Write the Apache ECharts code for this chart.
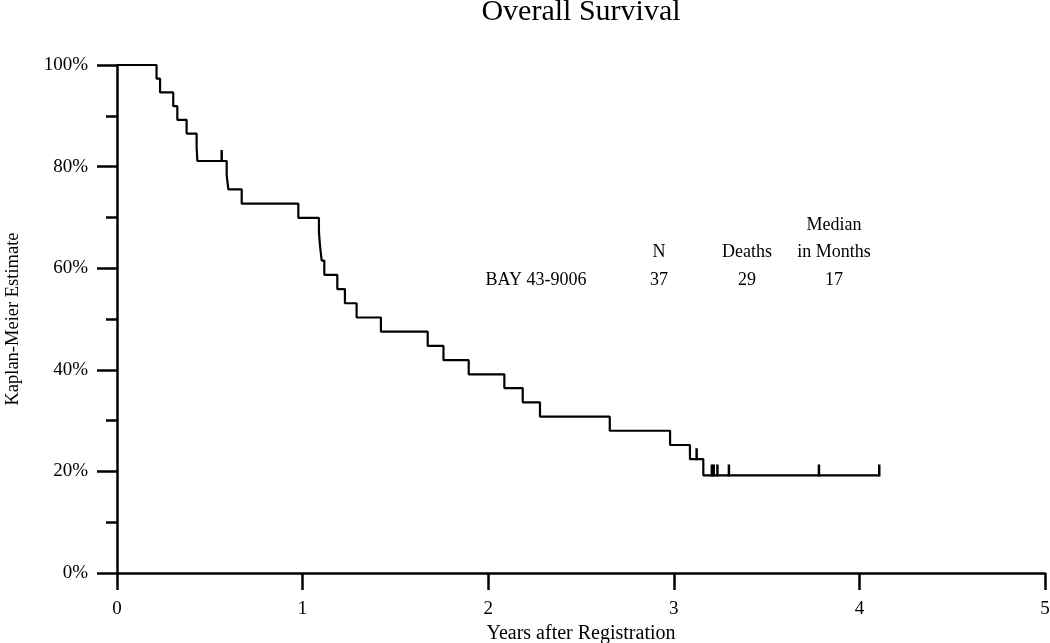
<!DOCTYPE html>
<html>
<head>
<meta charset="utf-8">
<script src="https://cdn.jsdelivr.net/npm/echarts@6/dist/echarts.min.js"></script>
<style>
html,body{margin:0;padding:0;background:#fff;}
#chart{width:1050px;height:643px;}
</style>
</head>
<body>
<div id="chart"></div>
<script>
// Kaplan-Meier step points: time (years) and survival estimate (%)
var eventTimes = [0, 0.213, 0.232, 0.303, 0.325, 0.375, 0.429, 0.433, 0.591, 0.600, 0.672, 0.977,
  1.088, 1.094, 1.103, 1.117, 1.187, 1.228, 1.291, 1.422, 1.674, 1.759, 1.895,
  2.087, 2.186, 2.279, 2.655, 2.980, 3.087, 3.159, 4.107];
var survival = [100, 97.3, 94.6, 91.9, 89.2, 86.5, 83.8, 81.1, 78.3, 75.5, 72.7, 69.9,
  67.1, 64.3, 61.5, 58.7, 55.9, 53.1, 50.3, 47.5, 44.7, 41.9, 39.1,
  36.4, 33.6, 30.8, 28.0, 25.2, 22.4, 19.2, 19.2];
// Censored observations
var censorTimes = [0.564, 3.123, 3.205, 3.215, 3.235, 3.297, 3.782, 4.107];
var censorSurvival = [81.1, 22.4, 19.2, 19.2, 19.2, 19.2, 19.2, 19.2];
// Axis ticks
var xTicks = [0, 1, 2, 3, 4, 5];
var yTicks = [0, 20, 40, 60, 80, 100];
// Summary table
var tableGroup = ['BAY 43-9006'];
var tableHeaders = ['N', 'Deaths', 'Median\nin Months'];
var tableValues = ['37', '29', '17'];
var chartTitle = 'Overall Survival';
var xTitle = 'Years after Registration';
var yTitle = 'Kaplan-Meier Estimate';

var FONT = '"Liberation Serif", "DejaVu Serif", serif';

var kmData = eventTimes.map(function (t, i) { return [t, survival[i]]; });
var censorData = censorTimes.map(function (t, i) { return [t, censorSurvival[i]]; });

var chart = echarts.init(document.getElementById('chart'), null, {renderer: 'canvas'});

var colX = [659, 747, 834];
var graphics = [
  {type: 'text', x: 581, y: 12, style: {text: chartTitle, font: '30px ' + FONT, fill: '#000', align: 'center', verticalAlign: 'middle'}},
  {type: 'text', x: 536, y: 280, style: {text: tableGroup[0], font: '18px ' + FONT, fill: '#000', align: 'center', verticalAlign: 'middle'}}
];
tableHeaders.forEach(function (h, i) {
  var lines = h.split('\n');
  lines.forEach(function (ln, j) {
    var y = 252 - (lines.length - 1 - j) * 27;
    graphics.push({type: 'text', x: colX[i], y: y, style: {text: ln, font: '18px ' + FONT, fill: '#000', align: 'center', verticalAlign: 'middle'}});
  });
  graphics.push({type: 'text', x: colX[i], y: 280, style: {text: tableValues[i], font: '18px ' + FONT, fill: '#000', align: 'center', verticalAlign: 'middle'}});
});

chart.setOption({
  animation: false,
  backgroundColor: '#fff',
  grid: {left: 117, right: 5, top: 65, bottom: 70, containLabel: false, outerBoundsMode: 'none'},
  xAxis: {
    type: 'value', min: xTicks[0], max: xTicks[xTicks.length - 1], interval: 1,
    axisLine: {show: true, onZero: false, lineStyle: {color: '#000', width: 2.5}},
    axisTick: {show: true, length: 17, lineStyle: {color: '#000', width: 2.5}},
    splitLine: {show: false},
    axisLabel: {color: '#000', fontFamily: FONT, fontSize: 19, margin: 27,
      formatter: function (v) { return xTicks.indexOf(v) >= 0 ? String(v) : ''; }},
    name: xTitle, nameLocation: 'middle', nameGap: 47,
    nameTextStyle: {color: '#000', fontFamily: FONT, fontSize: 20}
  },
  yAxis: {
    type: 'value', min: yTicks[0], max: yTicks[yTicks.length - 1], interval: 20,
    axisLine: {show: true, lineStyle: {color: '#000', width: 2.5}},
    axisTick: {show: true, length: 20, lineStyle: {color: '#000', width: 2.5}},
    minorTick: {show: true, splitNumber: 2, length: 11, lineStyle: {color: '#000', width: 2.5}},
    splitLine: {show: false},
    axisLabel: {color: '#000', fontFamily: FONT, fontSize: 19, margin: 29,
      formatter: function (v) { return v + '%'; }},
    name: yTitle, nameLocation: 'middle', nameGap: 94, nameRotate: 90,
    nameTextStyle: {color: '#000', fontFamily: FONT, fontSize: 18.5}
  },
  graphic: graphics,
  series: [
    {
      type: 'line', step: 'end', data: kmData, symbol: 'none',
      lineStyle: {color: '#000', width: 2.2}, silent: true, z: 3
    },
    {
      type: 'custom', data: censorData, z: 4, silent: true,
      renderItem: function (params, api) {
        var p = api.coord([api.value(0), api.value(1)]);
        return {type: 'line', shape: {x1: p[0], y1: p[1] + 1, x2: p[0], y2: p[1] - 11},
          style: {stroke: '#000', lineWidth: 2.5}};
      }
    }
  ]
});
</script>
</body>
</html>
